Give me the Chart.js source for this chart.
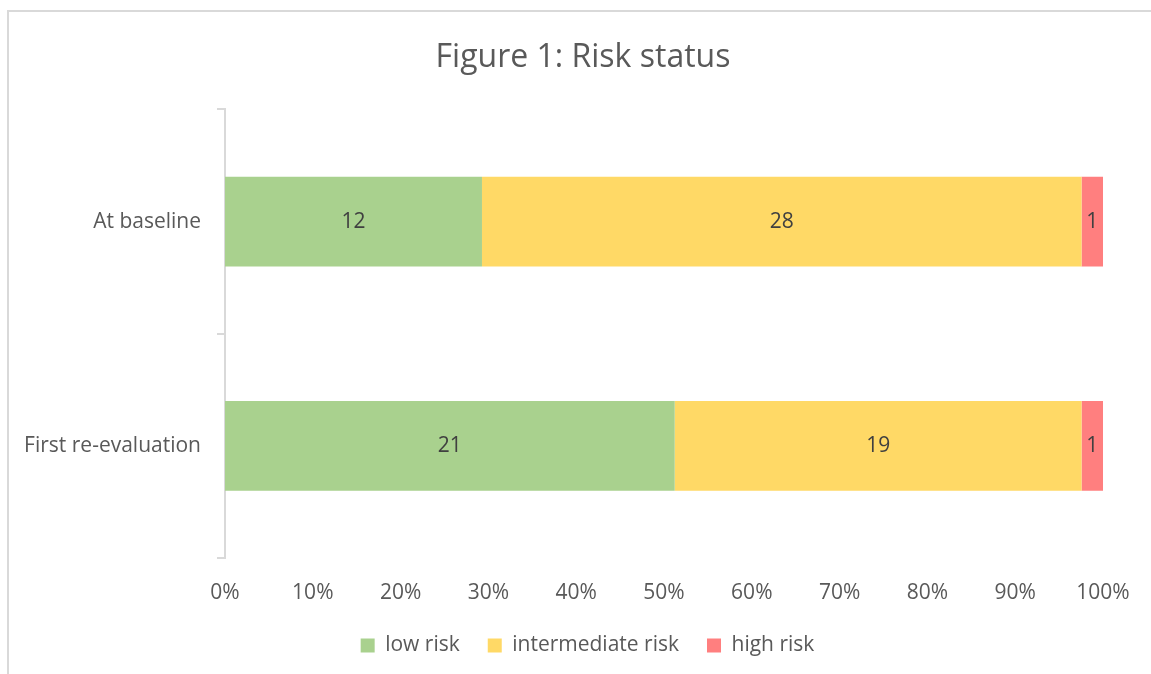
<!DOCTYPE html>
<html>
<head>
<meta charset="utf-8">
<script src="https://cdn.jsdelivr.net/npm/chart.js@4.4.1/dist/chart.umd.min.js"></script>
<style>
    html, body { margin:0; padding:0; background:#fff; overflow:hidden; }
    #wrap { position:relative; width:1151px; height:674px; overflow:hidden; }
    #frame { position:absolute; left:7px; top:10px; width:1300px; height:800px; border:2px solid #D9D9D9; box-sizing:border-box; }
    #chartBox { position:absolute; left:0; top:0; width:1151px; height:674px; }
</style>
</head>
<body>
<div id="wrap">
    <div id="frame"></div>
    <div id="chartBox"><canvas id="riskChart"></canvas></div>
</div>
<script>
// --- Data ---
const categories = ['At baseline', 'First re-evaluation'];
const lowRisk = [12, 21];
const intermediateRisk = [28, 19];
const highRisk = [1, 1];
const seriesNames = ['low risk', 'intermediate risk', 'high risk'];
const seriesColors = ['#A9D18E', '#FFD966', '#FF7F7F'];
const xTicks = [0, 10, 20, 30, 40, 50, 60, 70, 80, 90, 100];

const counts = [lowRisk, intermediateRisk, highRisk];
const totals = categories.map((c, i) => counts.reduce((s, arr) => s + arr[i], 0));

const FONT = '"Open Sans", sans-serif';
const TEXT = '#595959';

// draw the count in the middle of each bar piece
const valueLabels = {
    id: 'valueLabels',
    afterDatasetsDraw(chart) {
        const ctx = chart.ctx;
        ctx.save();
        ctx.font = '21px ' + FONT;
        ctx.fillStyle = '#404040';
        ctx.textAlign = 'center';
        ctx.textBaseline = 'middle';
        chart.data.datasets.forEach((ds, di) => {
            chart.getDatasetMeta(di).data.forEach((bar, i) => {
                const p = bar.getCenterPoint();
                ctx.fillText(ds.counts[i], p.x, p.y);
            });
        });
        ctx.restore();
    }
};

// fix legend height, and center title + legend on the whole frame like the original
const boxTweaks = {
    id: 'boxTweaks',
    beforeInit(chart) {
        const fit = chart.legend.fit;
        chart.legend.fit = function () {
            fit.bind(chart.legend)();
            this.height = 67;
        };
    },
    afterLayout(chart) {
        chart.titleBlock.left = 0;
        chart.titleBlock.right = 1166;
        chart.legend.left = 0;
        chart.legend.right = 1175;
    }
};

new Chart(document.getElementById('riskChart'), {
    type: 'bar',
    data: {
        labels: categories,
        datasets: counts.map((arr, k) => ({
            label: seriesNames[k],
            data: arr.map((v, i) => v / totals[i] * 100),
            counts: arr,
            backgroundColor: seriesColors[k],
            borderWidth: 0,
            categoryPercentage: 0.4,
            barPercentage: 1.0
        }))
    },
    options: {
        indexAxis: 'y',
        responsive: true,
        maintainAspectRatio: false,
        animation: false,
        layout: { padding: { left: 0, right: 48, top: 0, bottom: 0 } },
        plugins: {
            title: {
                display: true,
                text: 'Figure 1: Risk status',
                color: TEXT,
                font: { family: FONT, size: 32, weight: 'normal' },
                padding: { top: 39, bottom: 32 }
            },
            legend: {
                position: 'bottom',
                labels: {
                    color: TEXT,
                    font: { family: FONT, size: 21 },
                    boxWidth: 14,
                    boxHeight: 14,
                    padding: 28
                }
            },
            tooltip: { enabled: false }
        },
        scales: {
            x: {
                stacked: true,
                min: 0,
                max: 100,
                afterBuildTicks: s => { s.ticks = xTicks.map(v => ({ value: v })); },
                grid: { display: false },
                border: { display: false },
                ticks: {
                    color: TEXT,
                    font: { family: FONT, size: 21 },
                    padding: 14,
                    maxRotation: 0,
                    callback: v => v + '%'
                },
                afterFit: s => { s.height = 49; }
            },
            y: {
                stacked: true,
                grid: { drawOnChartArea: false, color: '#D9D9D9', tickLength: 8, lineWidth: 2 },
                border: { display: true, color: '#D9D9D9', width: 2 },
                ticks: {
                    color: TEXT,
                    font: { family: FONT, size: 21 },
                    padding: 16
                },
                afterFit: s => { s.width = 225; }
            }
        }
    },
    plugins: [valueLabels, boxTweaks]
});
</script>
</body>
</html>
